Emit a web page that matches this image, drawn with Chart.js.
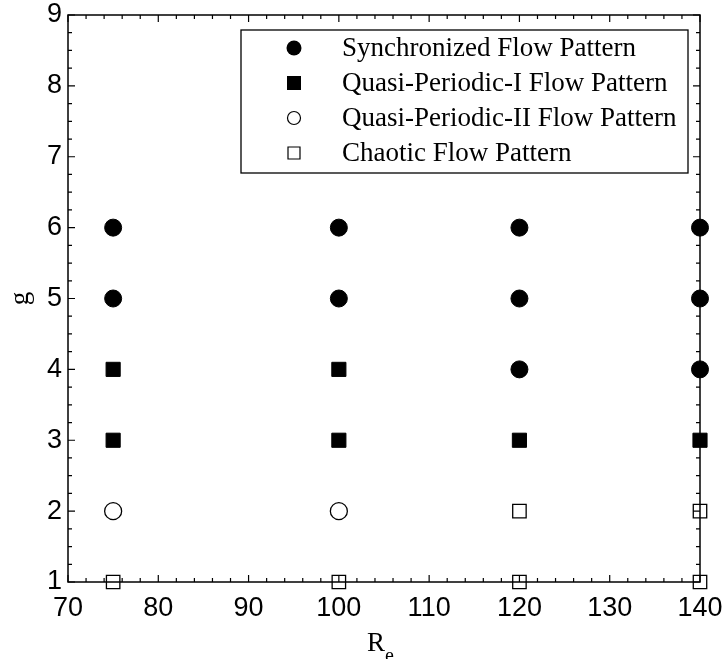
<!DOCTYPE html>
<html>
<head>
<meta charset="utf-8">
<script src="https://cdn.jsdelivr.net/npm/chart.js@4/dist/chart.umd.min.js"></script>
<style>
  html, body { margin: 0; padding: 0; background: #fff; }
  #wrap { width: 725px; height: 659px; }
</style>
</head>
<body>
<div id="wrap"><canvas id="flow" width="725" height="659"></canvas></div>
<script>
// Re values and g values per flow pattern
var syncRe   = [75, 75, 100, 100, 120, 120, 120, 140, 140, 140];
var syncG    = [6, 5, 6, 5, 6, 5, 4, 6, 5, 4];
var qp1Re    = [75, 75, 100, 100, 120, 140];
var qp1G     = [4, 3, 4, 3, 3, 3];
var qp2Re    = [75, 100];
var qp2G     = [2, 2];
var chaosRe  = [75, 100, 120, 120, 140, 140];
var chaosG   = [1, 1, 2, 1, 2, 1];
var seriesNames = ["Synchronized Flow Pattern", "Quasi-Periodic-I Flow Pattern",
                   "Quasi-Periodic-II Flow Pattern", "Chaotic Flow Pattern"];

function pts(xs, ys) {
  return xs.map(function (x, i) { return { x: x, y: ys[i] }; });
}

// inward ticks, full frame, axis titles and boxed legend
var framePlugin = {
  id: "frame",
  afterDraw: function (chart) {
    var ctx = chart.ctx, a = chart.chartArea;
    var xs = chart.scales.x, ys = chart.scales.y;
    ctx.save();
    ctx.strokeStyle = "#000";
    ctx.lineWidth = 1.5;
    ctx.strokeRect(a.left, a.top, a.right - a.left, a.bottom - a.top);

    ctx.lineWidth = 1.2;
    ctx.beginPath();
    for (var v = 70; v <= 140; v += 2) {
      var px = xs.getPixelForValue(v);
      var len = (v % 10 === 0) ? 7 : 4;
      ctx.moveTo(px, a.bottom); ctx.lineTo(px, a.bottom - len);
      ctx.moveTo(px, a.top); ctx.lineTo(px, a.top + len);
    }
    for (var g = 1; g <= 9.001; g += 0.25) {
      var py = ys.getPixelForValue(g);
      var l2 = (Math.abs(g - Math.round(g)) < 1e-6) ? 7 : 4;
      ctx.moveTo(a.left, py); ctx.lineTo(a.left + l2, py);
      ctx.moveTo(a.right, py); ctx.lineTo(a.right - l2, py);
    }
    ctx.stroke();

    // axis titles
    ctx.fillStyle = "#000";
    ctx.font = "27px 'Liberation Serif', 'Times New Roman', serif";
    ctx.textAlign = "center";
    ctx.textBaseline = "alphabetic";
    var cx = (a.left + a.right) / 2 - 8;
    ctx.fillText("R", cx, 651);
    ctx.font = "20px 'Liberation Serif', 'Times New Roman', serif";
    ctx.textAlign = "left";
    ctx.fillText("e", cx + 9, 662);

    ctx.save();
    ctx.translate(28, (a.top + a.bottom) / 2);
    ctx.rotate(-Math.PI / 2);
    ctx.font = "27px 'Liberation Serif', 'Times New Roman', serif";
    ctx.textAlign = "center";
    ctx.fillText("g", 0, 0);
    ctx.restore();

    // legend
    var lx = 241, ly = 30, lw = 447, lh = 143;
    ctx.fillStyle = "#fff";
    ctx.fillRect(lx, ly, lw, lh);
    ctx.lineWidth = 1.3;
    ctx.strokeStyle = "#000";
    ctx.strokeRect(lx, ly, lw, lh);
    ctx.font = "27px 'Liberation Serif', 'Times New Roman', serif";
    ctx.textBaseline = "middle";
    ctx.textAlign = "left";
    chart.data.datasets.forEach(function (ds, i) {
      var ry = 48 + i * 35;
      var mx = 294;
      ctx.beginPath();
      ctx.lineWidth = 1.2;
      if (ds.pointStyle === "circle") {
        ctx.arc(mx, ry, ds.backgroundColor === "#000" ? 7.5 : 6.5, 0, Math.PI * 2);
      } else {
        var s = ds.backgroundColor === "#000" ? 7 : 6;
        ctx.rect(mx - s, ry - s, 2 * s, 2 * s);
      }
      if (ds.backgroundColor === "#000") { ctx.fillStyle = "#000"; ctx.fill(); }
      else { ctx.stroke(); }
      ctx.fillStyle = "#000";
      ctx.fillText(ds.label, 342, ry + 1);
    });
    ctx.restore();
  }
};

var tickFont = { family: "'Liberation Sans', Arial, sans-serif", size: 27 };

new Chart(document.getElementById("flow"), {
  type: "scatter",
  data: {
    datasets: [
      { label: seriesNames[0], data: pts(syncRe, syncG), pointStyle: "circle",
        pointRadius: 8.5, backgroundColor: "#000", borderColor: "#000", borderWidth: 1 },
      { label: seriesNames[1], data: pts(qp1Re, qp1G), pointStyle: "rect",
        pointRadius: 10, backgroundColor: "#000", borderColor: "#000", borderWidth: 1 },
      { label: seriesNames[2], data: pts(qp2Re, qp2G), pointStyle: "circle",
        pointRadius: 8.5, backgroundColor: "rgba(0,0,0,0)", borderColor: "#000", borderWidth: 1.3 },
      { label: seriesNames[3], data: pts(chaosRe, chaosG), pointStyle: "rect",
        pointRadius: 9.5, backgroundColor: "rgba(0,0,0,0)", borderColor: "#000", borderWidth: 1.3 }
    ]
  },
  options: {
    responsive: false,
    animation: false,
    clip: false,
    layout: { padding: { left: 0, right: 25, top: 15, bottom: 0 } },
    plugins: { legend: { display: false }, tooltip: { enabled: false } },
    scales: {
      x: {
        type: "linear", min: 70, max: 140,
        ticks: { stepSize: 10, color: "#000", font: tickFont, padding: 10, maxRotation: 0 },
        grid: { display: false, drawTicks: false },
        border: { display: false },
        afterFit: function (s) { s.height = 77; s.paddingRight = 0; }
      },
      y: {
        type: "linear", min: 1, max: 9,
        ticks: { stepSize: 1, color: "#000", font: tickFont, padding: 6 },
        grid: { display: false, drawTicks: false },
        border: { display: false },
        afterFit: function (s) { s.width = 68; s.paddingTop = 0; s.paddingBottom = 0; }
      }
    }
  },
  plugins: [framePlugin]
});
</script>
</body>
</html>
